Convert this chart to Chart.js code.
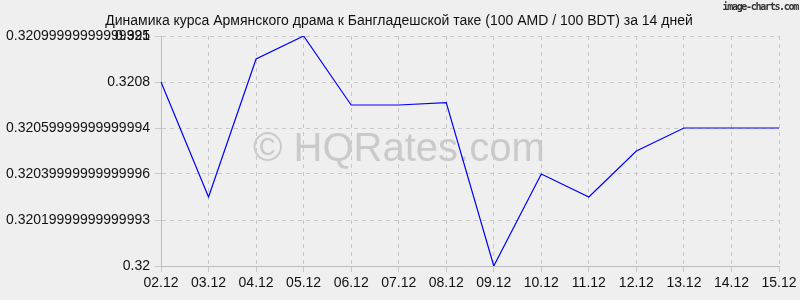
<!DOCTYPE html>
<html>
<head>
<meta charset="utf-8">
<script src="https://cdn.jsdelivr.net/npm/chart.js@4/dist/chart.umd.min.js"></script>
<style>
  html, body { margin: 0; padding: 0; background: #efefef; }
  #wrap { position: relative; width: 800px; height: 300px; }
  #brand { position: absolute; right: 2px; top: 1px; font: bold 10px "DejaVu Sans Mono", monospace; line-height: 11px; color: #333; letter-spacing: -1.3px; }
  #title { position: absolute; left: 0; width: 798px; top: 12px; text-align: center; font: 14px "Liberation Sans", Arial, sans-serif; line-height: 16px; color: #111; white-space: nowrap; }
</style>
</head>
<body>
<div id="wrap">
  <canvas id="c" width="800" height="300"></canvas>
  <div id="title"></div>
  <div id="brand">image-charts.com</div>
</div>
<script>
const titleText = 'Динамика курса Армянского драма к Бангладешской таке (100 AMD / 100 BDT) за 14 дней';
const watermarkText = '© HQRates.com';
const categories = ['02.12','03.12','04.12','05.12','06.12','07.12','08.12','09.12','10.12','11.12','12.12','13.12','14.12','15.12'];
const rates = [0.3208, 0.3203, 0.3209, 0.3210, 0.32070, 0.32070, 0.32071, 0.3200, 0.3204, 0.3203, 0.3205, 0.3206, 0.3206, 0.3206];
const yTickValues = [0.32, 0.3202, 0.3204, 0.3206, 0.3208, 0.321, 0.321];
const yTickLabels = ['0.32', '0.32019999999999993', '0.32039999999999996', '0.32059999999999994', '0.3208', '0.32099999999999995', '0.321'];

const FONT = '"Liberation Sans", Arial, sans-serif';
document.getElementById('title').textContent = titleText;

const watermark = {
  id: 'watermark',
  beforeDatasetsDraw(chart) {
    const ctx = chart.ctx;
    ctx.save();
    ctx.font = '40px ' + FONT;
    ctx.fillStyle = '#cacaca';
    ctx.textAlign = 'left';
    ctx.textBaseline = 'alphabetic';
    ctx.fillText(watermarkText, 253, 161);
    ctx.restore();
  }
};

new Chart(document.getElementById('c'), {
  type: 'line',
  data: {
    labels: categories,
    datasets: [{
      data: rates,
      borderColor: '#0000ff',
      borderWidth: 1.2,
      pointRadius: 0,
      tension: 0,
      fill: false
    }]
  },
  options: {
    responsive: false,
    animation: false,
    layout: { padding: { left: 0, right: 21, top: 36, bottom: 0 } },
    plugins: {
      legend: { display: false },
      tooltip: { enabled: false },
      title: { display: false }
    },
    scales: {
      x: {
        offset: false,
        grid: { color: '#c8c8c8', tickLength: 6, borderDash: [4, 4], dash: [4, 4] },
        border: { display: true, color: '#bdbdbd', dash: [4, 4] },
        ticks: { color: '#111', font: { family: FONT, size: 14 }, padding: 3, maxRotation: 0, autoSkip: false },
        afterFit(scale) { scale.height = 34; }
      },
      y: {
        min: 0.32,
        max: 0.321,
        grid: { color: '#c8c8c8', tickLength: 6, borderDash: [4, 4], dash: [4, 4] },
        border: { display: true, color: '#bdbdbd', dash: [4, 4] },
        ticks: {
          color: '#111',
          font: { family: FONT, size: 14 },
          padding: 5,
          callback: (v, i) => yTickLabels[i]
        },
        afterBuildTicks(scale) { scale.ticks = yTickValues.map(v => ({ value: v })); },
        afterFit(scale) { scale.width = 161; }
      }
    }
  },
  plugins: [watermark]
});
</script>
</body>
</html>
